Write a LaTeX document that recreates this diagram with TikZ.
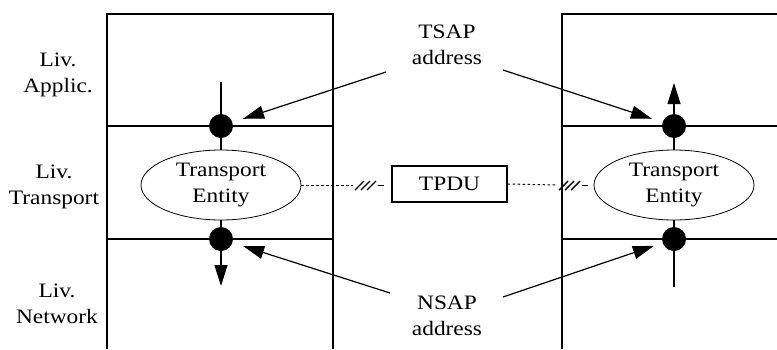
\documentclass[tikz,border=0pt]{standalone}
\usepackage{fontspec}
\setmainfont[FakeStretch=1.14]{Liberation Serif}
\usetikzlibrary{arrows.meta,shapes.geometric}
\begin{document}
\begin{tikzpicture}[x=1pt,y=-1pt,
 every node/.style={font=\fontsize{20.5}{25.5}\selectfont},
 lbl/.style={align=center,inner sep=0pt},
 ent/.style={draw,ellipse,line width=0.8pt,minimum width=160pt,minimum height=70pt,inner sep=0pt,align=center},
 dotnode/.style={circle,fill,minimum size=24pt,inner sep=0pt},
 frame/.style={line width=1.2pt},
 conn/.style={line width=1.2pt},
 arr/.style={line width=1.2pt,-{Triangle[length=21pt,width=13pt]}},
 dots/.style={line width=1pt,dash pattern=on 2.5pt off 2.5pt},
 hash/.style={line width=1.4pt}
]
\useasboundingbox (0,0) rectangle (777,349);
% frames
\draw[frame] (107,349) -- (107,14) -- (333,14) -- (333,349);
\draw[frame] (107,126) -- (333,126);
\draw[frame] (107,239) -- (333,239);
\draw[frame] (562,349) -- (562,14) -- (777,14);
\draw[frame] (562,126) -- (777,126);
\draw[frame] (562,239) -- (777,239);
% level labels
\node[lbl] (la) at (58,75) {Liv.\\Applic.};
\node[lbl] (lt) at (54,187) {Liv.\\Transport};
\node[lbl] (ln) at (57,304) {Liv.\\Network};
% entities
\node[ent,fill=white] (e1) at (221,185) {Transport\\Entity};
\node[ent,fill=white] (e2) at (674,185) {Transport\\Entity};
\node[dotnode] (d1) at (221,126) {};
\node[dotnode] (d2) at (221,239) {};
\node[dotnode] (d3) at (674,126) {};
\node[dotnode] (d4) at (674,239) {};
\coordinate (lt1) at (221,82);
\coordinate (lb1) at (221,286);
\coordinate (rt1) at (674,83);
\coordinate (rb1) at (674,287);
\draw[conn] (lt1) -- (d1);
\draw[conn] (d1) -- (e1);
\draw[conn] (e1) -- (d2);
\draw[arr] (d2) -- (lb1);
\draw[arr] (d3) -- (rt1);
\draw[conn] (d3) -- (e2);
\draw[conn] (e2) -- (d4);
\draw[conn] (d4) -- (rb1);
% TPDU
\node[draw,line width=1.2pt,minimum width=115pt,minimum height=36pt,inner sep=0pt] (tpdu) at (449.5,184) {TPDU};
% address labels
\node[lbl] (tsap) at (447,45) {TSAP\\address};
\node[lbl] (nsap) at (447,316) {NSAP\\address};
\coordinate (ta1) at (386,72);
\coordinate (ta2) at (503,70);
\coordinate (na1) at (390,293);
\coordinate (na2) at (503,297);
\draw[arr,shorten >=11pt] (ta1) -- (d1);
\draw[arr,shorten >=11pt] (ta2) -- (d3);
\draw[arr,shorten >=11pt] (na1) -- (d2);
\draw[arr,shorten >=9pt] (na2) -- (d4);
% dotted links with break marks
\coordinate (h1) at (353,185);
\coordinate (h2) at (557,185);
\draw[dots] (e1.east) -- (h1);
\foreach \x in {355,361,367} \draw[hash] (\x,190) -- (\x+9,181);
\draw[line width=1pt] (378,185) -- (384,185);
\draw[dots] (tpdu.east) -- (h2);
\foreach \x in {559,565,571} \draw[hash] (\x,190) -- (\x+9,181);
\draw[line width=1pt] (582,185) -- (588,185);
\end{tikzpicture}
\end{document}
